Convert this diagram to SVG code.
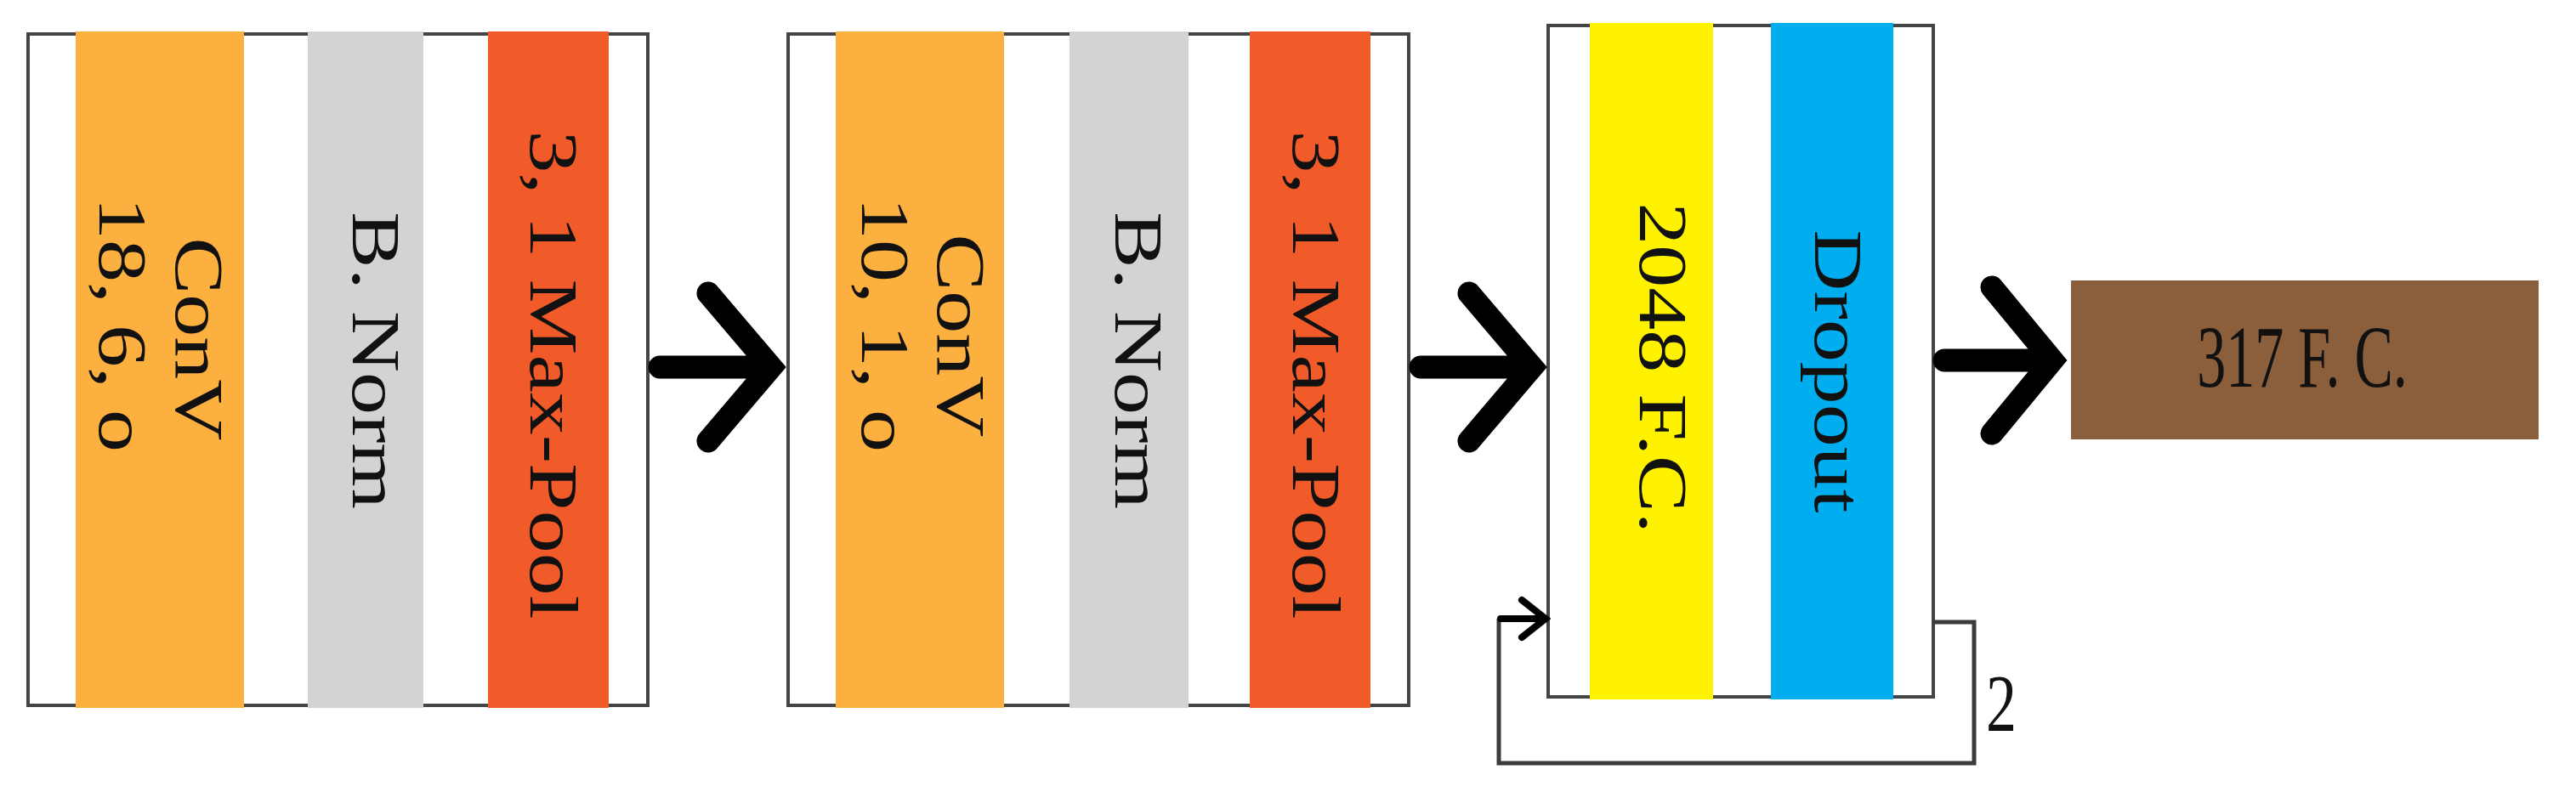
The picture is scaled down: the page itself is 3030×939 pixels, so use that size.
<svg xmlns="http://www.w3.org/2000/svg" width="3030" height="939" viewBox="0 0 3030 939">
<style>
.frame{fill:#ffffff;stroke:#444444;stroke-width:4}
.conv{fill:#FBB040}
.bn{fill:#D1D3D4}
.mp{fill:#F15A29}
.fc{fill:#FFF200}
.drop{fill:#00AEEF}
.out{fill:#8B5E3C}
.lbl{font-family:"Liberation Serif","Times New Roman",serif;font-size:80px;fill:#111111;text-anchor:middle}
.arrow{fill:none;stroke:#000000;stroke-width:27;stroke-linecap:round;stroke-linejoin:miter;stroke-miterlimit:4}
.loop{fill:none;stroke:#3c3c3c;stroke-width:5}
.small{fill:none;stroke:#000000;stroke-width:8;stroke-linecap:round;stroke-linejoin:miter}
</style>
<rect width="3030" height="939" fill="#ffffff"/>

<g id="block1">
  <rect class="frame" x="33" y="40" width="729" height="790"/>
  <rect class="conv" x="89" y="37" width="198" height="796"/>
  <rect class="bn" x="362" y="37" width="136" height="796"/>
  <rect class="mp" x="574" y="37" width="142" height="796"/>
  <text class="lbl" transform="translate(207,399) scale(1,1.25) rotate(90)">ConV</text>
  <text class="lbl" transform="translate(117,382) scale(1,1.25) rotate(90)">18, 6, o</text>
  <text class="lbl" transform="translate(415,424) scale(1,1.25) rotate(90)">B. Norm</text>
  <text class="lbl" transform="translate(624,441) scale(1,1.25) rotate(90)">3, 1 Max-Pool</text>
</g>

<g id="block2">
  <rect class="frame" x="927" y="40" width="730" height="790"/>
  <rect class="conv" x="983" y="37" width="198" height="796"/>
  <rect class="bn" x="1258" y="37" width="140" height="796"/>
  <rect class="mp" x="1470" y="37" width="142" height="796"/>
  <text class="lbl" transform="translate(1103,395) scale(1,1.25) rotate(90)">ConV</text>
  <text class="lbl" transform="translate(1014,382) scale(1,1.25) rotate(90)">10, 1, o</text>
  <text class="lbl" transform="translate(1312,424) scale(1,1.25) rotate(90)">B. Norm</text>
  <text class="lbl" transform="translate(1521,441) scale(1,1.25) rotate(90)">3, 1 Max-Pool</text>
</g>

<g id="block3">
  <rect class="frame" x="1821" y="30" width="453" height="790"/>
  <rect class="fc" x="1870" y="27" width="145" height="796"/>
  <rect class="drop" x="2083" y="27" width="144" height="796"/>
  <text class="lbl" transform="translate(1929,433) scale(1,1.25) rotate(90)">2048 F.C.</text>
  <text class="lbl" transform="translate(2135,437) scale(1,1.25) rotate(90)">Dropout</text>
</g>

<g id="output">
  <rect class="out" x="2436" y="330" width="550" height="187"/>
  <text class="lbl" transform="translate(2708,455) scale(0.85,1.3)">317 F. C.</text>
</g>

<g id="connectors">
  <path class="arrow" d="M776,432 H905 M833,345 L907,432 L833,519"/>
  <path class="arrow" d="M1671,432 H1800 M1728,345 L1802,432 L1728,519"/>
  <path class="arrow" d="M2287,424 H2412 M2343,338 L2414,424 L2343,510"/>
  <path class="loop" d="M2274,732 H2322 V898 H1763 V728"/>
  <path class="small" d="M1765,728 H1815 M1790,706 L1818,728 L1790,750"/>
  <text class="lbl" transform="translate(2354,860) scale(0.9,1.2)">2</text>
</g>
</svg>
